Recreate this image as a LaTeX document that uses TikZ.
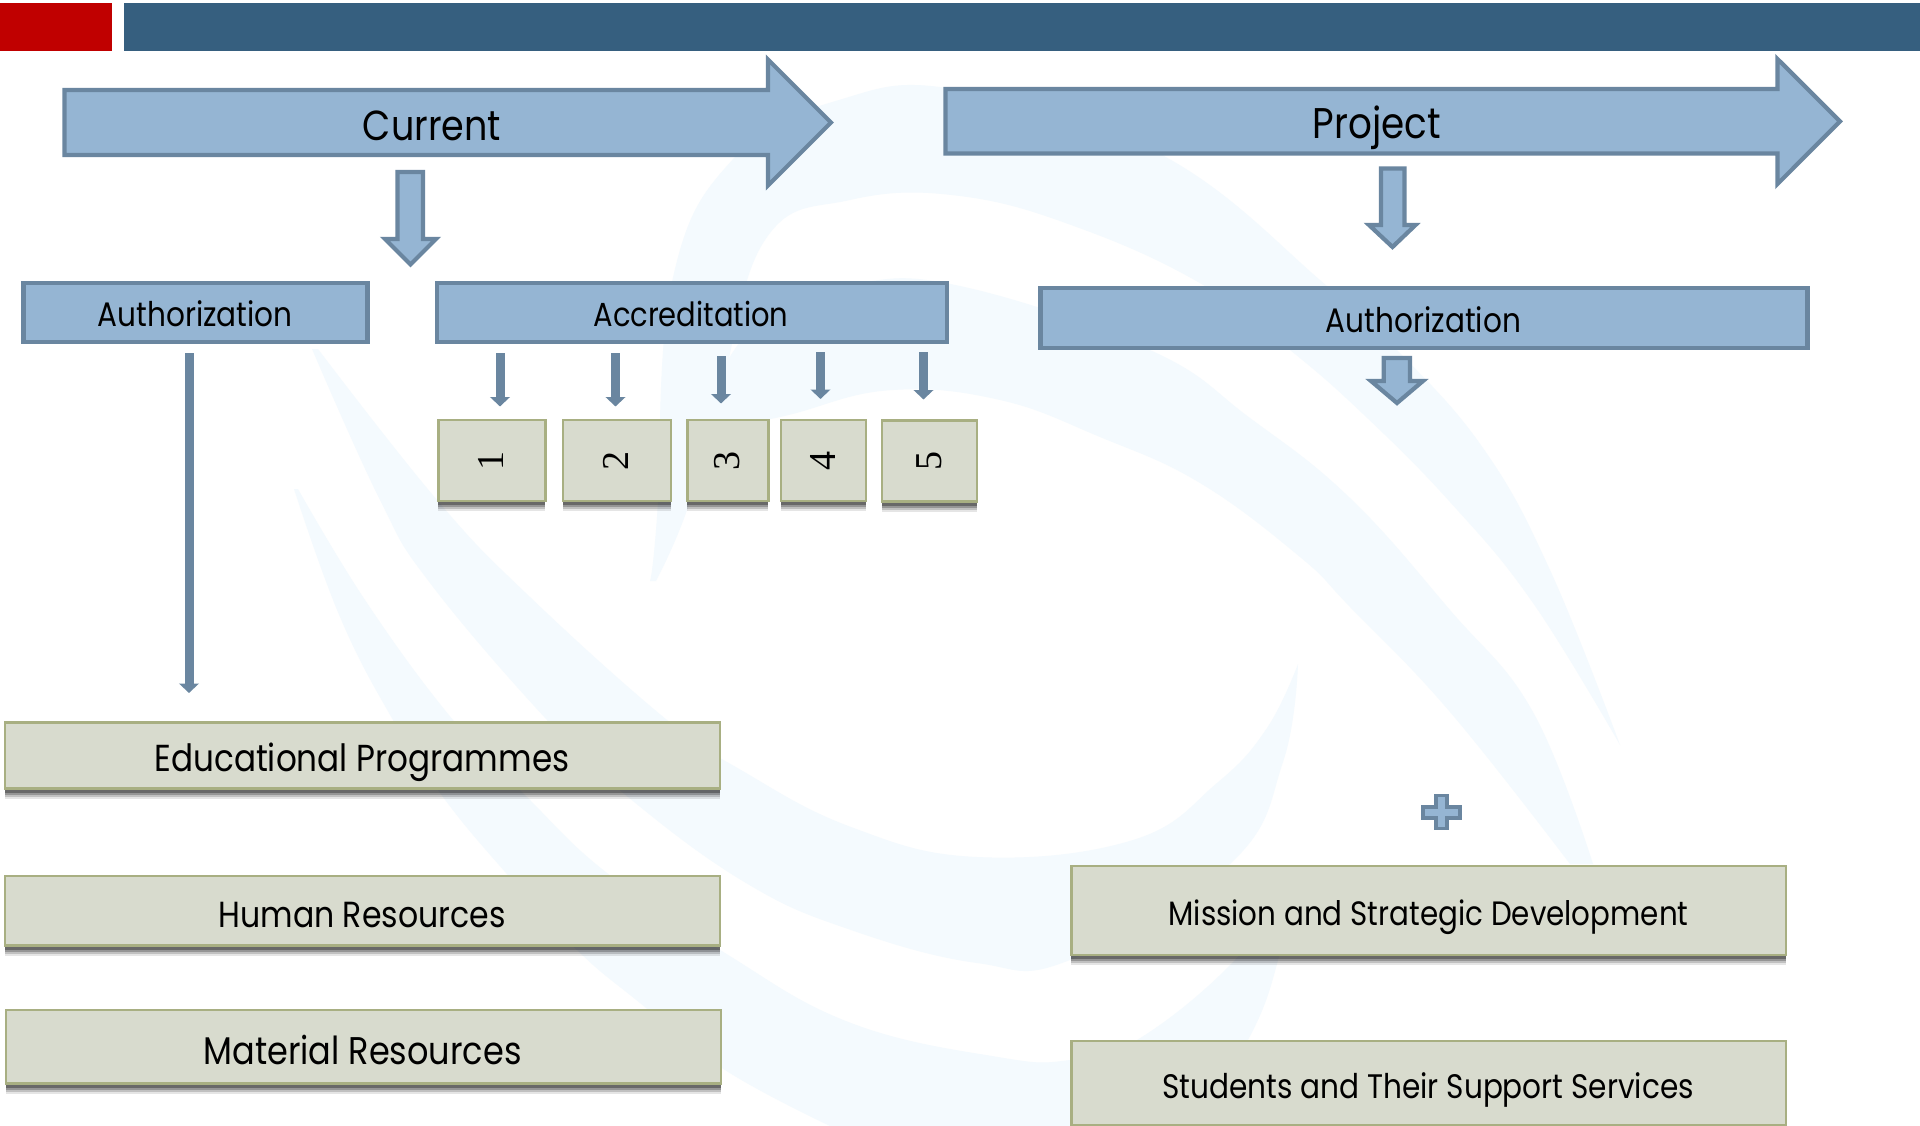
\documentclass[tikz,border=0pt]{standalone}
\usepackage{fontspec}
\usepackage{graphicx}
\setmainfont{Poppins}
\newfontfamily\digitfont{Liberation Serif}
\usetikzlibrary{arrows.meta}
\definecolor{barblue}{HTML}{365F7F}
\definecolor{barred}{HTML}{C00000}
\definecolor{blockfill}{HTML}{95B5D3}
\definecolor{blockline}{HTML}{6A86A0}
\definecolor{greenfill}{HTML}{D8DBCE}
\definecolor{greenline}{HTML}{A8AF82}
\definecolor{swirl}{HTML}{F4FAFE}
\newcommand{\fit}[2]{\scalebox{1}[1.15]{\resizebox{#1pt}{!}{#2}}}
\tikzset{
  x=1pt,y=-1pt,
  swirlfill/.style={fill=swirl,draw=none},
  smoothline/.style={smooth,tension=.7},
  blockshape/.style={fill=blockfill,draw=blockline,line width=4.2pt,miter limit=10},
  bluebox/.style={rectangle,fill=blockfill,draw=blockline,line width=4.2pt,inner sep=0pt,outer sep=0pt},
  shadowlayer/.style 2 args={preaction={draw=none,fill=black,fill opacity=#2,transform canvas={yshift=#1}}},
  greenbox/.style={rectangle,fill=greenfill,draw=greenline,line width=2.6pt,inner sep=0pt,outer sep=0pt,
    shadowlayer={-10pt}{.10},shadowlayer={-8pt}{.16},shadowlayer={-6pt}{.22},shadowlayer={-4pt}{.30}},
  label/.style={anchor=base,inner sep=0pt,text=black},
  digit/.style={anchor=center,inner sep=0pt,rotate=90,text=black,font=\digitfont\fontsize{38}{38}\selectfont},
  thinarrow/.style={draw=blockline,line width=9pt,-{Triangle[length=9.5pt,width=19.5pt]}},
}
\begin{document}
\begin{tikzpicture}
\useasboundingbox (0,0) rectangle (1920,1126);
\fill[white] (0,0) rectangle (1920,1126);

% background swirl: arm rising from the centre tip and sweeping right
\fill[swirlfill] plot[smoothline] coordinates {(650,581) (657,517) (672,282) (735,157) (839,100) (960,90) (1162,155) (1327,286) (1397,350) (1483,448) (1550,570) (1620,745)}
  -- plot[smoothline] coordinates {(1620,745) (1533,603) (1450,502) (1363,414) (1290,350) (1205,286) (1082,229) (960,196) (850,200) (765,240) (720,395) (687,510) (656,581)} -- cycle;
% second arm
\fill[swirlfill] plot[smoothline] coordinates {(687,510) (720,440) (800,412) (893,390) (1000,400) (1100,437) (1200,483) (1300,557) (1350,607) (1450,712) (1570,864)}
  -- plot[smoothline] coordinates {(1593,864) (1533,712) (1450,610) (1350,498) (1250,418) (1150,350) (960,286) (850,285) (760,320) (700,420) (687,510)} -- cycle;
% lower crescent
\fill[swirlfill] plot[smoothline] coordinates {(312,349) (380,500) (430,583) (547,720) (628,797) (746,883) (851,930) (977,963) (1070,960) (1230,864) (1283,762) (1298,664)}
  -- plot[smoothline] coordinates {(1298,664) (1267,728) (1217,783) (1133,840) (977,857) (851,827) (741,770) (667,720) (530,597) (437,500) (318,349)} -- cycle;
% lowest band, running off the bottom
\fill[swirlfill] plot[smoothline] coordinates {(294,489) (340,617) (393,720) (443,797) (506,873) (577,950) (640,1003) (725,1070) (830,1126)}
  -- (1190,1126)
  -- plot[smoothline] coordinates {(1190,1126) (1248,1040) (1278,960) (1290,880)}
  -- plot[smoothline] coordinates {(1290,880) (1235,960) (1137,1040) (1070,1060) (998,1057) (851,1023) (725,953) (607,873) (527,797) (453,720) (367,603) (298,489)} -- cycle;

% top bars
\fill[barred] (0,3) rectangle (112,51);
\fill[barblue] (124,3) rectangle (1920,51);

% large arrows
\draw[blockshape] (64.5,90) -- (768,90) -- (768,59.5) -- (831,122.5) -- (768,185.5) -- (768,155) -- (64.5,155) -- cycle;
\draw[blockshape] (945.5,89) -- (1777.5,89) -- (1777.5,59) -- (1840,121.3) -- (1777.5,184) -- (1777.5,153.5) -- (945.5,153.5) -- cycle;
\node[label] (current) at (432,141) {\fit{138}{Current}};
\node[label] (project) at (1377,139) {\fit{128}{Project}};

% down block arrows
\draw[blockshape] (397.5,172) -- (423,172) -- (423,239) -- (436,239) -- (410.5,264.5) -- (385,239) -- (397.5,239) -- cycle;
\draw[blockshape] (1381,168.5) -- (1404.5,168.5) -- (1404.5,225) -- (1415.5,225) -- (1392.5,247) -- (1369,225) -- (1381,225) -- cycle;
\draw[blockshape] (1383.7,358) -- (1410,358) -- (1410,381) -- (1423,381) -- (1397,403) -- (1371,381) -- (1383.7,381) -- cycle;

% blue boxes
\node[bluebox,minimum width=344pt,minimum height=59pt] (authl) at (195.5,312.7) {};
\node[bluebox,minimum width=510pt,minimum height=59pt] (accr) at (691.7,312.7) {};
\node[bluebox,minimum width=767pt,minimum height=60pt] (authr) at (1424,318) {};
\node[label] (authlt) at (195.3,326) {\fit{195}{Authorization}};
\node[label] (accrt) at (691,326) {\fit{195}{Accreditation}};
\node[label] (authrt) at (1423.5,332) {\fit{195}{Authorization}};

% numbered boxes
\node[greenbox,minimum width=107pt,minimum height=81pt] (b1) at (491.8,460.5) {};
\node[greenbox,minimum width=108pt,minimum height=81pt] (b2) at (617,460.5) {};
\node[greenbox,minimum width=81pt,minimum height=81pt] (b3) at (727.7,460.5) {};
\node[greenbox,minimum width=85pt,minimum height=81pt] (b4) at (823.5,460.5) {};
\node[greenbox,minimum width=95pt,minimum height=81pt] (b5) at (929.5,461) {};
\node[digit] (d1) at (491,461) {1};
\node[digit] (d2) at (616,461) {2};
\node[digit] (d3) at (727.5,461) {3};
\node[digit] (d4) at (822.5,461) {4};
\node[digit] (d5) at (929.5,461) {5};

% thin arrows from Accreditation to the numbered boxes
\coordinate (a1) at ([xshift=-191.7pt]accr.south);
\coordinate (a2) at ([xshift=-76.2pt]accr.south);
\coordinate (a3) at ([xshift=29.3pt]accr.south);
\coordinate (a4) at ([xshift=128.8pt]accr.south);
\coordinate (a5) at ([xshift=231.8pt]accr.south);
\draw[thinarrow,shorten <=11pt,shorten >=13.5pt] (a1) -- (a1 |- b1.north);
\draw[thinarrow,shorten <=11pt,shorten >=13.5pt] (a2) -- (a2 |- b2.north);
\draw[thinarrow,shorten <=14pt,shorten >=16.5pt] (a3) -- (a3 |- b3.north);
\draw[thinarrow,shorten <=10pt,shorten >=21pt] (a4) -- (a4 |- b4.north);
\draw[thinarrow,shorten <=10pt,shorten >=21pt] (a5) -- (a5 |- b5.north);

% lower boxes
\node[greenbox,minimum width=715pt,minimum height=66pt] (edu) at (362.5,755.5) {};
\node[greenbox,minimum width=715pt,minimum height=69.5pt] (hum) at (362.5,910.75) {};
\node[greenbox,minimum width=715pt,minimum height=73.5pt] (mat) at (363.5,1046.75) {};
\node[greenbox,minimum width=714.5pt,minimum height=89pt] (mis) at (1428.7,910.5) {};
\node[greenbox,minimum width=714.5pt,minimum height=84pt] (stu) at (1428.7,1083) {};
\node[label] (edut) at (362,771.5) {\fit{415}{Educational Programmes}};
\node[label] (humt) at (362,927.2) {\fit{287}{Human Resources}};
\node[label] (matt) at (362.5,1064) {\fit{318}{Material Resources}};
\node[label] (mist) at (1428.5,925.5) {\fit{520}{Mission and Strategic Development}};
\node[label] (stut) at (1428,1098.5) {\fit{531.5}{Students and Their Support Services}};

% long arrow from Authorization to Educational Programmes
\coordinate (a0) at ([xshift=-6.5pt]authl.south);
\draw[thinarrow,shorten <=11pt,shorten >=29.5pt] (a0) -- (a0 |- edu.north);

% plus sign
\draw[blockshape,line width=3.6pt] (1436,795.3) -- (1446.7,795.3) -- (1446.7,807) -- (1459.7,807) -- (1459.7,817.7) -- (1446.7,817.7) -- (1446.7,828.5) -- (1436,828.5) -- (1436,817.7) -- (1423,817.7) -- (1423,807) -- (1436,807) -- cycle;
\end{tikzpicture}
\end{document}
